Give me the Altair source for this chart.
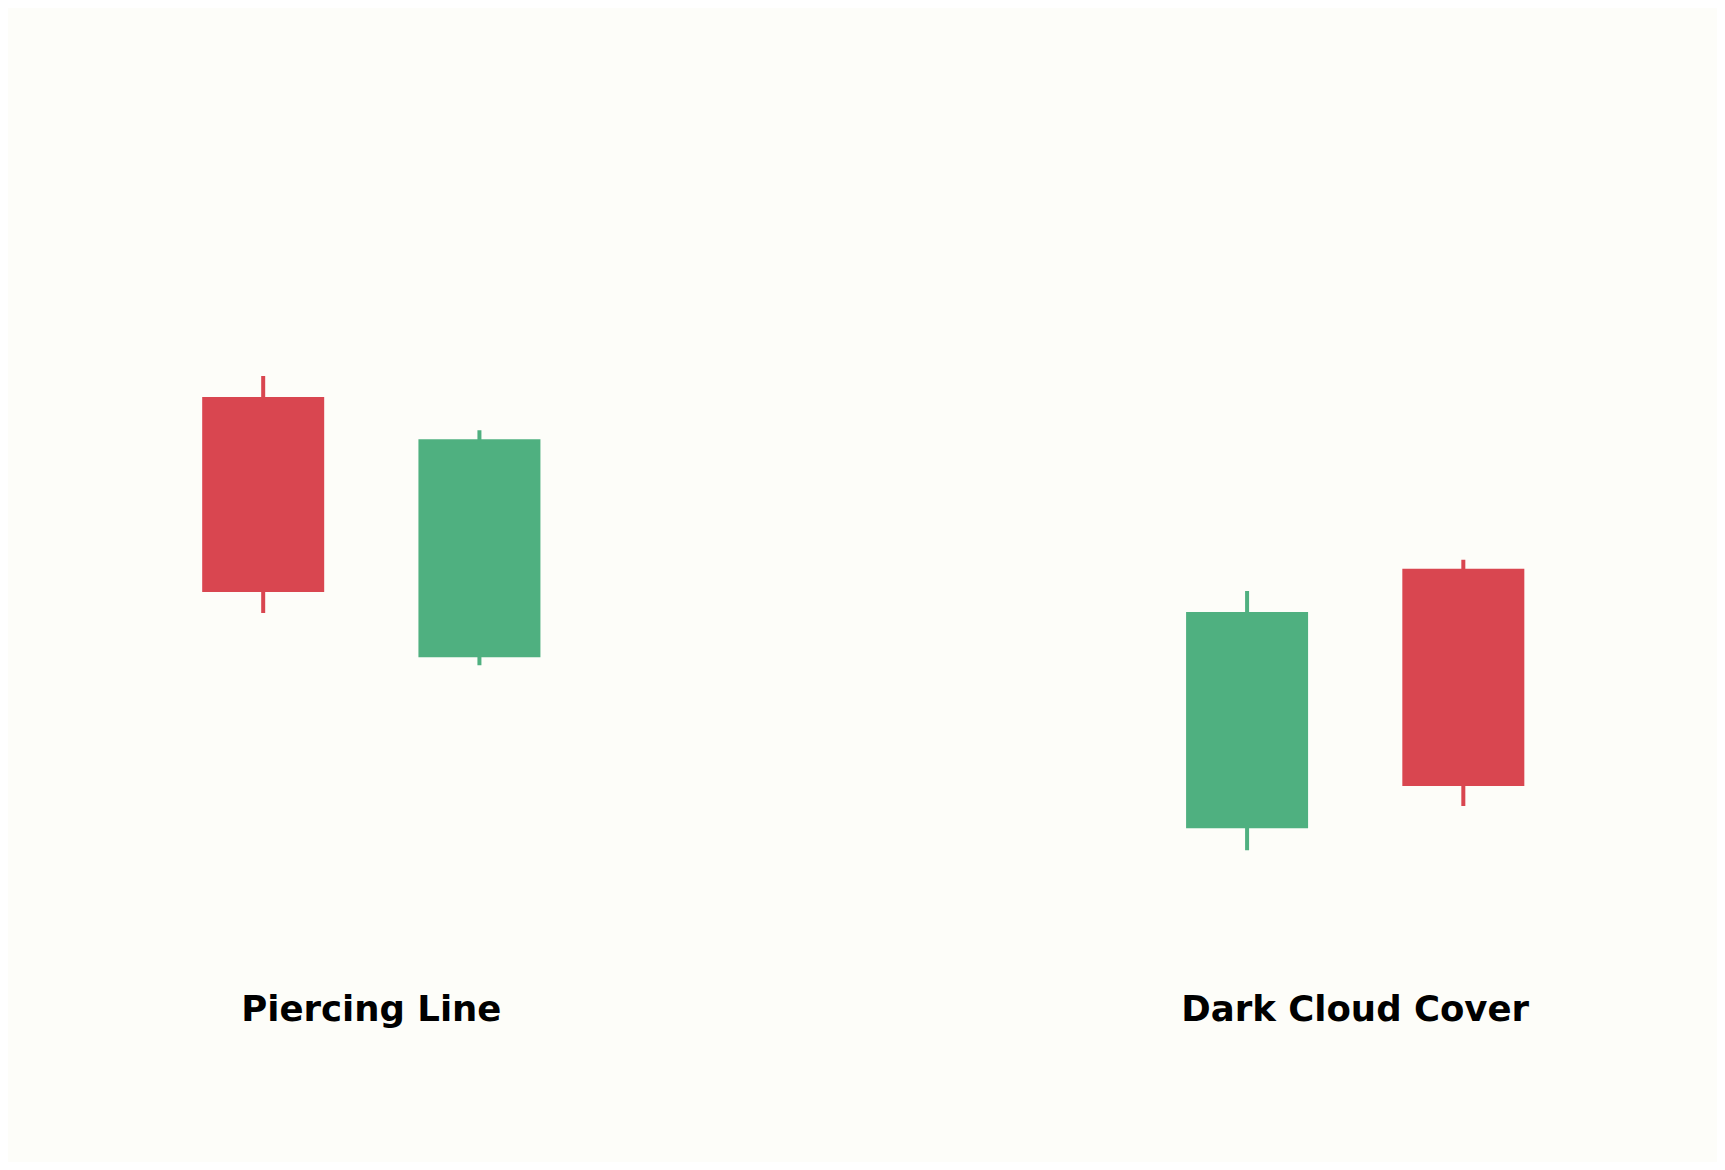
import altair as alt
import pandas as pd

# Candle data
candle_x = [1.0, 2.0, 5.55, 6.55]
opens  = [76.5, 50.6, 33.6, 59.4]
closes = [57.1, 72.3, 55.1, 37.8]
highs  = [78.6, 73.2, 57.2, 60.3]
lows   = [55.0, 49.8, 31.4, 35.8]
directions = ["down", "up", "up", "down"]

label_x = [1.5, 6.05]
label_y = [15.5, 15.5]
labels = ["Piercing Line", "Dark Cloud Cover"]

RED = "#d94650"
GREEN = "#4fb080"
BG = "#fdfdf9"

df = pd.DataFrame({
    "x": candle_x, "open": opens, "close": closes,
    "high": highs, "low": lows, "dir": directions,
})
lab = pd.DataFrame({"x": label_x, "y": label_y, "label": labels})

xs = alt.Scale(domain=[-0.157, 7.70], nice=False, zero=False)
ys = alt.Scale(domain=[0.39, 115.2], nice=False, zero=False)
color = alt.Color("dir:N", scale=alt.Scale(domain=["down", "up"], range=[RED, GREEN]), legend=None)

wicks = alt.Chart(df).mark_rule(strokeWidth=4).encode(
    x=alt.X("x:Q", scale=xs, axis=None),
    y=alt.Y("low:Q", scale=ys, axis=None),
    y2="high:Q",
    color=color,
)

bodies = alt.Chart(df).mark_bar(size=122).encode(
    x=alt.X("x:Q", scale=xs, axis=None),
    y=alt.Y("open:Q", scale=ys, axis=None),
    y2="close:Q",
    color=color,
)

texts = alt.Chart(lab).mark_text(
    font="DejaVu Sans", fontWeight="bold", fontSize=35.5, color="#000000",
    align="center", baseline="middle",
).encode(
    x=alt.X("x:Q", scale=xs, axis=None),
    y=alt.Y("y:Q", scale=ys, axis=None),
    text="label:N",
)

chart = alt.layer(wicks, bodies, texts).properties(
    width=1709, height=1154, padding=0,
    autosize=alt.AutoSizeParams(type="none"),
    background=BG,
).configure_view(stroke=None)

chart.save("out.html", embed_options={"renderer": "svg", "actions": False})
